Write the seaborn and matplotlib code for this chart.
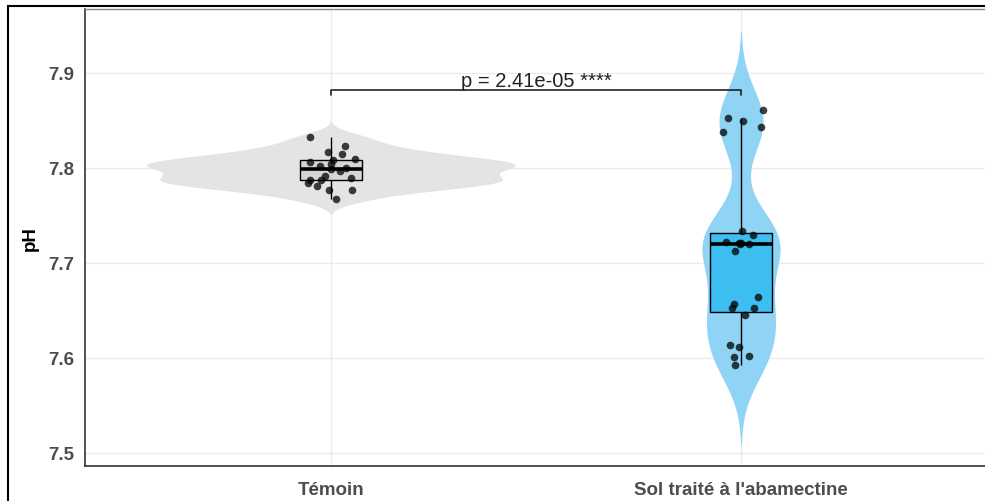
import numpy as np
import pandas as pd
import matplotlib
matplotlib.use("Agg")
import matplotlib.pyplot as plt
from matplotlib.patches import Rectangle
import seaborn as sns

# pH measurements per soil group
categories = ["Témoin", "Sol traité à l'abamectine"]
ph_temoin = [7.832, 7.823, 7.817, 7.814, 7.809, 7.808, 7.804, 7.806, 7.802,
             7.799, 7.796, 7.800, 7.791, 7.787, 7.787, 7.789, 7.781, 7.777,
             7.777, 7.784, 7.767]
ph_traite = [7.861, 7.852, 7.849, 7.843, 7.838, 7.733, 7.729, 7.720, 7.721,
             7.722, 7.721, 7.712, 7.720, 7.657, 7.664, 7.652, 7.652, 7.645,
             7.613, 7.611, 7.601, 7.602, 7.592]
p_label = "p = 2.41e-05 ****"
y_ticks = [7.5, 7.6, 7.7, 7.8, 7.9]

violin_colors = ["#E4E4E4", "#8FD3F5"]
box_colors = ["#D5D5D5", "#3EBDF1"]

df = pd.DataFrame({
    "groupe": [categories[0]] * len(ph_temoin) + [categories[1]] * len(ph_traite),
    "pH": ph_temoin + ph_traite,
})

sns.set_style("white")
plt.rcParams["font.family"] = ["Liberation Sans", "DejaVu Sans"]

W, H = 985, 502
fig = plt.figure(figsize=(W / 100, H / 100), dpi=100)
ax = fig.add_axes([85 / W, 1 - 467 / H, 902 / W, 457 / H])

# violins share one density scale so that each encloses the same area
sns.violinplot(data=df, x="groupe", y="pH", hue="groupe", order=categories,
               hue_order=categories, palette=dict(zip(categories, violin_colors)),
               density_norm="area", common_norm=True, width=0.9, cut=2.5,
               bw_adjust=0.7, inner=None, linewidth=0, saturation=1,
               legend=False, ax=ax)

sns.boxplot(data=df, x="groupe", y="pH", hue="groupe", order=categories,
            hue_order=categories, palette=dict(zip(categories, box_colors)),
            width=0.15, showfliers=False, showcaps=False, linecolor="black",
            linewidth=1.0, saturation=1, medianprops={"linewidth": 2.6},
            legend=False, ax=ax)

np.random.seed(7)
sns.stripplot(data=df, x="groupe", y="pH", order=categories, color="black",
              alpha=0.75, size=5.5, jitter=0.06, linewidth=0, ax=ax, zorder=5)

# significance bracket
y_br = 7.882
ax.plot([0, 0, 1, 1], [y_br - 0.006, y_br, y_br, y_br - 0.006],
        color="#222222", lw=1.2, zorder=6)
ax.text(0.5, y_br + 0.004, p_label, ha="center", va="baseline",
        fontsize=14.5, color="#222222", zorder=6)

ax.set_xlim(-0.6, 1.6)
ax.set_ylim(7.486, 7.967)
ax.set_yticks(y_ticks)
ax.set_yticklabels([f"{v:.1f}" for v in y_ticks])

ax.set_axisbelow(True)
ax.grid(True, color="#EBEBEB", lw=1)

for side in ["left", "bottom"]:
    ax.spines[side].set_color("#333333")
    ax.spines[side].set_linewidth(1.2)
for side in ["top", "right"]:
    ax.spines[side].set_color("#8A8A8A")
    ax.spines[side].set_linewidth(1.0)

ax.tick_params(axis="both", length=4.5, width=1, color="#333333",
               labelcolor="#4D4D4D")
ax.tick_params(axis="x", labelsize=13.5, pad=6)
ax.tick_params(axis="y", labelsize=13.5, pad=3)
for lab in ax.get_xticklabels() + ax.get_yticklabels():
    lab.set_fontweight("bold")

ax.set_xlabel("")
ax.set_ylabel("pH", fontsize=13.5, fontweight="bold", color="black", labelpad=7)

# outer frame
fig.add_artist(Rectangle((8 / W, -0.1), 2, 1 - 7 / H + 0.1,
                         transform=fig.transFigure, fill=False,
                         ec="black", lw=1.5))

fig.savefig("out.png", dpi=100)
